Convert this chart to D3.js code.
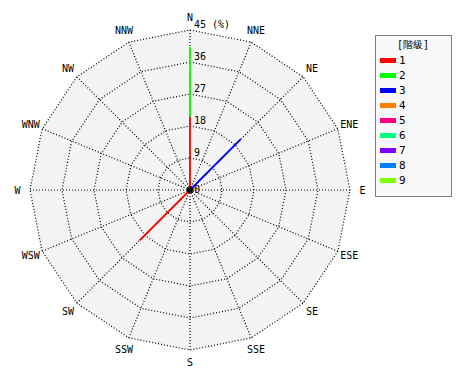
<!DOCTYPE html>
<html><head><meta charset="utf-8">
<script src="https://cdn.jsdelivr.net/npm/d3@7"></script>
<style>body{margin:0;background:#fff}svg{display:block}text{font-family:"DejaVu Sans Mono",monospace;font-size:10px;fill:#000}</style>
</head><body>
<script>
const directions = ["N","NNE","NE","ENE","E","ESE","SE","SSE","S","SSW","SW","WSW","W","WNW","NW","NNW"];
const levels = ["1","2","3","4","5","6","7","8","9"];
const levelColors = ["#ff0000","#00ff00","#0000ff","#ff8000","#ff0080","#00ff80","#8000ff","#0080ff","#80ff00"];
const ticks = [0,9,18,27,36,45];
// frequency (%) per direction for each level
const level1 = [20.5,0,0,0,0,0,0,0,0,0,20,0,0,0,0,0];
const level2 = [19.7,0,0,0,0,0,0,0,0,0,0,0,0,0,0,0];
const level3 = [0,0,20.2,0,0,0,0,0,0,0,0,0,0,0,0,0];
const level4 = new Array(16).fill(0);
const level5 = new Array(16).fill(0);
const level6 = new Array(16).fill(0);
const level7 = new Array(16).fill(0);
const level8 = new Array(16).fill(0);
const level9 = new Array(16).fill(0);
const series = [level1,level2,level3,level4,level5,level6,level7,level8,level9];

const W=470,H=380,cx=190,cy=190,R=160;
const svg=d3.select("body").append("svg").attr("width",W).attr("height",H);
const r=d3.scaleLinear().domain([0,45]).range([0,R]);
const ang=d3.scaleLinear().domain([0,16]).range([0,2*Math.PI]);
const pt=(i,v)=>[cx+r(v)*Math.sin(ang(i)),cy-r(v)*Math.cos(ang(i))];
const poly=v=>d3.range(16).map(i=>pt(i,v));
const line=d3.line().curve(d3.curveLinearClosed);

svg.append("path").attr("d",line(poly(45))).attr("fill","#f4f4f4");
ticks.filter(t=>t>0).forEach(t=>{
  svg.append("path").attr("d",line(poly(t))).attr("fill","none").attr("stroke","#000").attr("stroke-dasharray","1,2").attr("stroke-width",1.2);
});
directions.forEach((d,i)=>{
  const p=pt(i,45);
  svg.append("line").attr("x1",cx).attr("y1",cy).attr("x2",p[0]).attr("y2",p[1]).attr("stroke","#000").attr("stroke-dasharray","1,2").attr("stroke-width",1.2);
  const q=pt(i,48.5);
  svg.append("text").attr("x",q[0]).attr("y",q[1]).attr("text-anchor","middle").attr("dominant-baseline","central").text(d);
});
// bars (stacked along spokes)
directions.forEach((d,i)=>{
  let acc=0;
  series.forEach((s,k)=>{
    if(s[i]>0){
      const a=pt(i,acc),b=pt(i,acc+s[i]);
      svg.append("line").attr("x1",a[0]).attr("y1",a[1]).attr("x2",b[0]).attr("y2",b[1]).attr("stroke",levelColors[k]).attr("stroke-width",1.8);
      acc+=s[i];
    }
  });
});
svg.append("circle").attr("cx",cx).attr("cy",cy).attr("r",3).attr("fill","#000");
ticks.forEach(t=>{
  svg.append("text").attr("x",cx+4).attr("y",cy-r(t)-(t===0?-3:2)).text(t===45?"45 (%)":t);
});
// legend
const lg=svg.append("g");
lg.append("rect").attr("x",375.5).attr("y",35.5).attr("width",76).attr("height",161).attr("fill","#f8f8f8").attr("stroke","#000").attr("stroke-dasharray","1,1");
lg.append("text").attr("x",413).attr("y",48).attr("text-anchor","middle").text("[階級]");
const ly=d3.scalePoint().domain(levels).range([60,180]);
levels.forEach((l,k)=>{
  lg.append("rect").attr("x",380).attr("y",ly(l)-2).attr("width",16).attr("height",5).attr("fill",levelColors[k]);
  lg.append("text").attr("x",399).attr("y",ly(l)).attr("dominant-baseline","central").style("font-size","11px").text(l);
});
</script>
</body></html>
